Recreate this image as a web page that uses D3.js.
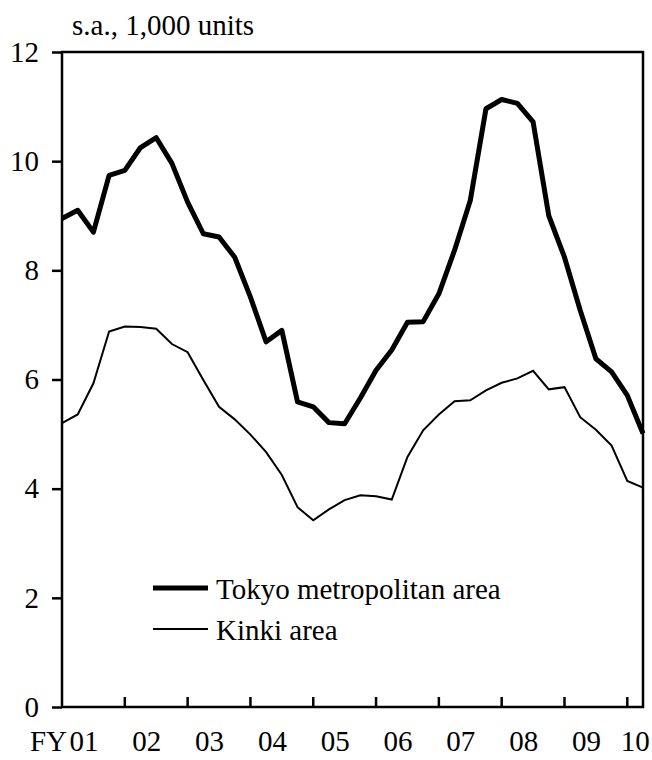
<!DOCTYPE html>
<html lang="en">
  <head>
    <meta charset="utf-8">
    <title>Housing starts</title>
    <script src="https://d3js.org/d3.v7.min.js"></script>
    <style>
      body { margin: 0; background: white; overflow: hidden; }
      svg { display: block; }
      text { font-family: "Liberation Serif", "Times New Roman", serif; fill: black; }
    </style>
  </head>
  <body>
    <script type="text/javascript">

      var w = 652;
      var h = 760;
      var margin = {top: 52, right: 9, bottom: 53, left: 62};
      var innerWidth = w - margin.left - margin.right;
      var innerHeight = h - margin.top - margin.bottom;
      var fontSize = "29px";

      // quarterly, FY01 Q1 .. FY10 Q2 (s.a., 1,000 units)
      var tokyo = [8.95, 9.10, 8.70, 9.74, 9.83, 10.25, 10.43, 9.96,
                   9.25, 8.67, 8.61, 8.24, 7.51, 6.69, 6.90, 5.59,
                   5.50, 5.21, 5.19, 5.66, 6.17, 6.54, 7.05, 7.06,
                   7.57, 8.37, 9.28, 10.96, 11.13, 11.06, 10.72, 9.00,
                   8.24, 7.27, 6.38, 6.14, 5.71, 5.01];
      var kinki = [5.20, 5.36, 5.93, 6.88, 6.97, 6.96, 6.93, 6.65,
                   6.50, 5.99, 5.50, 5.27, 4.99, 4.67, 4.25, 3.66,
                   3.42, 3.62, 3.79, 3.88, 3.86, 3.80, 4.58, 5.07,
                   5.36, 5.60, 5.62, 5.80, 5.94, 6.02, 6.16, 5.82,
                   5.86, 5.31, 5.08, 4.79, 4.14, 4.02];
      var yearLabels = ["01", "02", "03", "04", "05", "06", "07", "08", "09", "10"];
      var yTicks = [0, 2, 4, 6, 8, 10, 12];
      var seriesNames = ["Tokyo metropolitan area", "Kinki area"];

      var svg = d3.select("body")
          .append("svg")
          .attr("width", w)
          .attr("height", h);

      svg.append("rect")
          .attr("width", w)
          .attr("height", h)
          .attr("fill", "white");

      var xScale = d3.scaleLinear()
          .domain([0, tokyo.length - 1])
          .range([0, innerWidth]);

      var yScale = d3.scaleLinear()
          .domain([0, 12])
          .range([innerHeight, 0]);

      var g = svg.append("g")
          .attr("transform", `translate(${margin.left}, ${margin.top})`);

      // frame
      g.append("rect")
          .attr("width", innerWidth)
          .attr("height", innerHeight)
          .attr("fill", "none")
          .attr("stroke", "black")
          .attr("stroke-width", 2.5);

      // y axis, ticks pointing out
      var yAxis = d3.axisLeft(yScale)
          .tickValues(yTicks)
          .tickSize(10)
          .tickPadding(13);
      var yg = g.append("g").call(yAxis);
      yg.select(".domain").remove();
      yg.selectAll("line").attr("stroke-width", 2.5);
      yg.selectAll("text")
          .style("font-family", "Liberation Serif")
          .style("font-size", fontSize);

      // x axis ticks at start of each fiscal year, pointing in
      var xTickIdx = d3.range(4, tokyo.length, 4);
      g.append("g")
          .selectAll("line")
          .data(xTickIdx)
          .enter().append("line")
          .attr("x1", function(d) { return xScale(d); })
          .attr("x2", function(d) { return xScale(d); })
          .attr("y1", innerHeight)
          .attr("y2", innerHeight - 10)
          .attr("stroke", "black")
          .attr("stroke-width", 2.5);

      var lastIdx = tokyo.length - 1;
      g.append("g")
          .selectAll("text")
          .data(yearLabels)
          .enter().append("text")
          .attr("x", function(d, i) {
              return xScale(Math.min(i * 4 + 1.4, lastIdx - 0.5));
          })
          .attr("y", innerHeight + 44)
          .attr("text-anchor", "middle")
          .style("font-size", fontSize)
          .text(function(d) { return d; });

      g.append("text")
          .attr("x", xScale(1.4) - 17)
          .attr("y", innerHeight + 44)
          .attr("text-anchor", "end")
          .style("font-size", fontSize)
          .text("FY");

      g.append("text")
          .attr("x", 10)
          .attr("y", -17)
          .style("font-size", fontSize)
          .text("s.a., 1,000 units");

      // lines
      var line = d3.line()
          .x(function(d, i) { return xScale(i); })
          .y(function(d) { return yScale(d); });

      g.append("path")
          .datum(kinki)
          .attr("d", line)
          .attr("fill", "none")
          .attr("stroke", "black")
          .attr("stroke-width", 2);

      g.append("path")
          .datum(tokyo)
          .attr("d", line)
          .attr("fill", "none")
          .attr("stroke", "black")
          .attr("stroke-width", 5)
          .attr("stroke-linejoin", "round");

      // legend
      var legend = g.append("g")
          .attr("transform", "translate(91, 536)");
      var legendWidths = [5, 2];
      legend.selectAll("line")
          .data(seriesNames)
          .enter().append("line")
          .attr("x1", 0)
          .attr("x2", 55)
          .attr("y1", function(d, i) { return i * 41; })
          .attr("y2", function(d, i) { return i * 41; })
          .attr("stroke", "black")
          .attr("stroke-width", function(d, i) { return legendWidths[i]; });
      legend.selectAll("text")
          .data(seriesNames)
          .enter().append("text")
          .attr("x", 63)
          .attr("y", function(d, i) { return i * 41 + 11; })
          .style("font-size", fontSize)
          .text(function(d) { return d; });

    </script>
  </body>
</html>
